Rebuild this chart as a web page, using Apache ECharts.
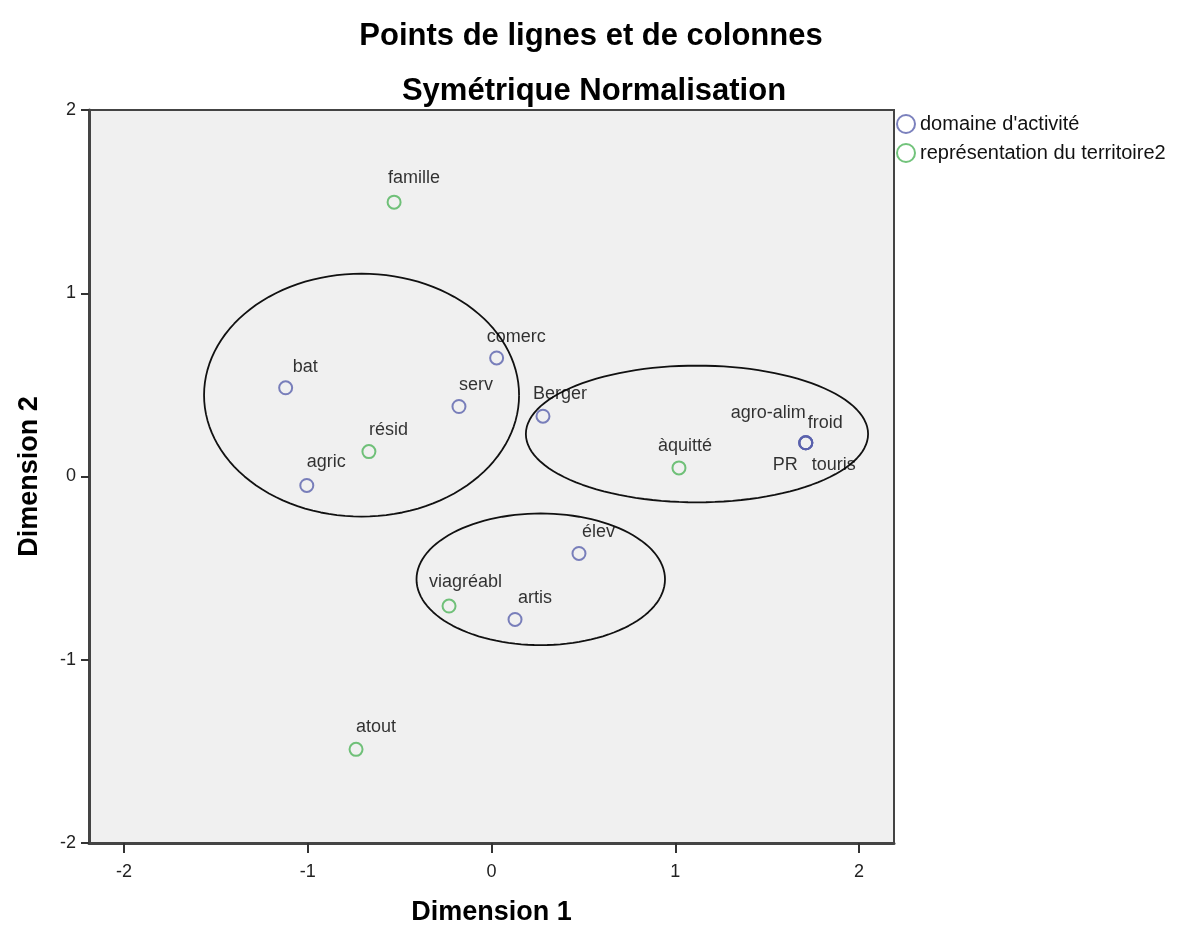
<!DOCTYPE html>
<html>
<head>
<meta charset="utf-8">
<title>Points de lignes et de colonnes</title>
<script src="https://cdn.jsdelivr.net/npm/echarts@6/dist/echarts.min.js"></script>
<style>
  html, body { margin: 0; padding: 0; background: #fff; }
  #chart { width: 1191px; height: 931px; }
</style>
</head>
<body>
<div id="chart"></div>
<script>
// domaine d'activité (points bleus)
const actNames = ['bat', 'comerc', 'serv', 'Berger', 'agric', 'élev', 'artis', 'agro-alim', 'froid', 'PR', 'touris']
const actX = [-1.12, 0.028, -0.177, 0.28, -1.005, 0.476, 0.128, 1.71, 1.71, 1.71, 1.71]
const actY = [0.484, 0.647, 0.382, 0.329, -0.049, -0.42, -0.78, 0.184, 0.184, 0.184, 0.184]

// représentation du territoire2 (points verts)
const terNames = ['famille', 'résid', 'àquitté', 'viagréabl', 'atout']
const terX = [-0.53, -0.667, 1.02, -0.231, -0.737]
const terY = [1.497, 0.136, 0.047, -0.707, -1.489]

// ellipses dessinées à la main : [centreX, centreY, rayonX, rayonY]
const ellipses = [
  [-0.707, 0.444, 0.857, 0.663],
  [1.118, 0.232, 0.931, 0.373],
  [0.268, -0.561, 0.676, 0.359]
]

const tickValues = [-2, -1, 0, 1, 2]

// décalage des étiquettes (px) : [dx, dy, align]
const labelPlace = {
  'bat': [7, -21, 'left'],
  'comerc': [-10, -21, 'left'],
  'serv': [0, -21, 'left'],
  'Berger': [-10, -22, 'left'],
  'agric': [0, -23, 'left'],
  'élev': [3, -21, 'left'],
  'artis': [3, -21, 'left'],
  'agro-alim': [0, -30, 'right'],
  'froid': [2, -20, 'left'],
  'PR': [-8, 22, 'right'],
  'touris': [6, 22, 'left'],
  'famille': [-6, -24, 'left'],
  'résid': [0, -22, 'left'],
  'àquitté': [-21, -22, 'left'],
  'viagréabl': [-20, -24, 'left'],
  'atout': [0, -22, 'left']
}

const FONT = 'Liberation Sans, Arial, sans-serif'
const BLUE = '#5a62ad'
const GREEN = '#4fb45a'

function pointData(names, xs, ys) {
  return names.map((n, i) => {
    const p = labelPlace[n] || [0, -22, 'left']
    return {
      name: n,
      value: [xs[i], ys[i]],
      label: { offset: [p[0], p[1]], align: p[2] }
    }
  })
}

function ellipsePath(e) {
  const pts = []
  const steps = 120
  for (let k = 0; k <= steps; k++) {
    const t = (k / steps) * Math.PI * 2
    pts.push([e[0] + e[2] * Math.cos(t), e[1] + e[3] * Math.sin(t)])
  }
  return pts
}

const chart = echarts.init(document.getElementById('chart'))

const pointLabel = {
  show: true,
  position: 'inside',
  formatter: '{b}',
  color: '#000',
  textBorderWidth: 0,
  fontFamily: FONT,
  fontSize: 18,
  verticalAlign: 'middle'
}

const series = [
  {
    name: "domaine d'activité",
    type: 'scatter',
    symbol: 'circle',
    symbolSize: 13,
    itemStyle: { color: 'rgba(0,0,0,0)', borderColor: BLUE, borderWidth: 2 },
    label: pointLabel,
    z: 5,
    data: pointData(actNames, actX, actY)
  },
  {
    name: 'représentation du territoire2',
    type: 'scatter',
    symbol: 'circle',
    symbolSize: 13,
    itemStyle: { color: 'rgba(0,0,0,0)', borderColor: GREEN, borderWidth: 2 },
    label: pointLabel,
    z: 5,
    data: pointData(terNames, terX, terY)
  }
]

ellipses.forEach((e, i) => {
  series.push({
    name: 'ellipse' + i,
    type: 'line',
    silent: true,
    symbol: 'none',
    lineStyle: { color: '#111', width: 1.8 },
    z: 3,
    data: ellipsePath(e)
  })
})

chart.setOption({
  animation: false,
  backgroundColor: '#fff',
  title: [
    {
      text: 'Points de lignes et de colonnes',
      left: 586,
      top: 16,
      textAlign: 'center',
      textStyle: { fontFamily: FONT, fontSize: 31, fontWeight: 'bold', color: '#000', lineHeight: 31 }
    },
    {
      text: 'Symétrique Normalisation',
      left: 589,
      top: 71,
      textAlign: 'center',
      textStyle: { fontFamily: FONT, fontSize: 31, fontWeight: 'bold', color: '#000', lineHeight: 31 }
    }
  ],
  legend: {
    data: ["domaine d'activité", 'représentation du territoire2'],
    orient: 'vertical',
    left: 896,
    top: 114,
    padding: 0,
    itemWidth: 18,
    itemHeight: 18,
    itemGap: 9,
    textStyle: { fontFamily: FONT, fontSize: 20, lineHeight: 18, color: '#111' }
  },
  grid: {
    left: 89,
    right: 297,
    top: 110,
    bottom: 87,
    show: true,
    backgroundColor: '#f0f0f0',
    borderColor: '#444',
    borderWidth: 2
  },
  xAxis: {
    type: 'value',
    min: -2.19,
    max: 2.19,
    name: 'Dimension 1',
    nameLocation: 'middle',
    nameGap: 56,
    nameTextStyle: { fontFamily: FONT, fontSize: 27, fontWeight: 'bold', color: '#000' },
    axisLine: { show: true, onZero: false, lineStyle: { color: '#444', width: 3 } },
    axisTick: { show: true, length: 10, customValues: tickValues, lineStyle: { color: '#333', width: 2 } },
    axisLabel: { customValues: tickValues, margin: 20, fontFamily: FONT, fontSize: 18, color: '#222' },
    splitLine: { show: false }
  },
  yAxis: {
    type: 'value',
    min: -2,
    max: 2,
    interval: 1,
    name: 'Dimension 2',
    nameLocation: 'middle',
    nameGap: 46,
    nameTextStyle: { fontFamily: FONT, fontSize: 27, fontWeight: 'bold', color: '#000' },
    axisLine: { show: true, onZero: false, lineStyle: { color: '#444', width: 3 } },
    axisTick: { show: true, length: 8, lineStyle: { color: '#333', width: 2 } },
    axisLabel: { margin: 13, fontFamily: FONT, fontSize: 18, color: '#222' },
    splitLine: { show: false }
  },
  series: series
})
</script>
</body>
</html>
